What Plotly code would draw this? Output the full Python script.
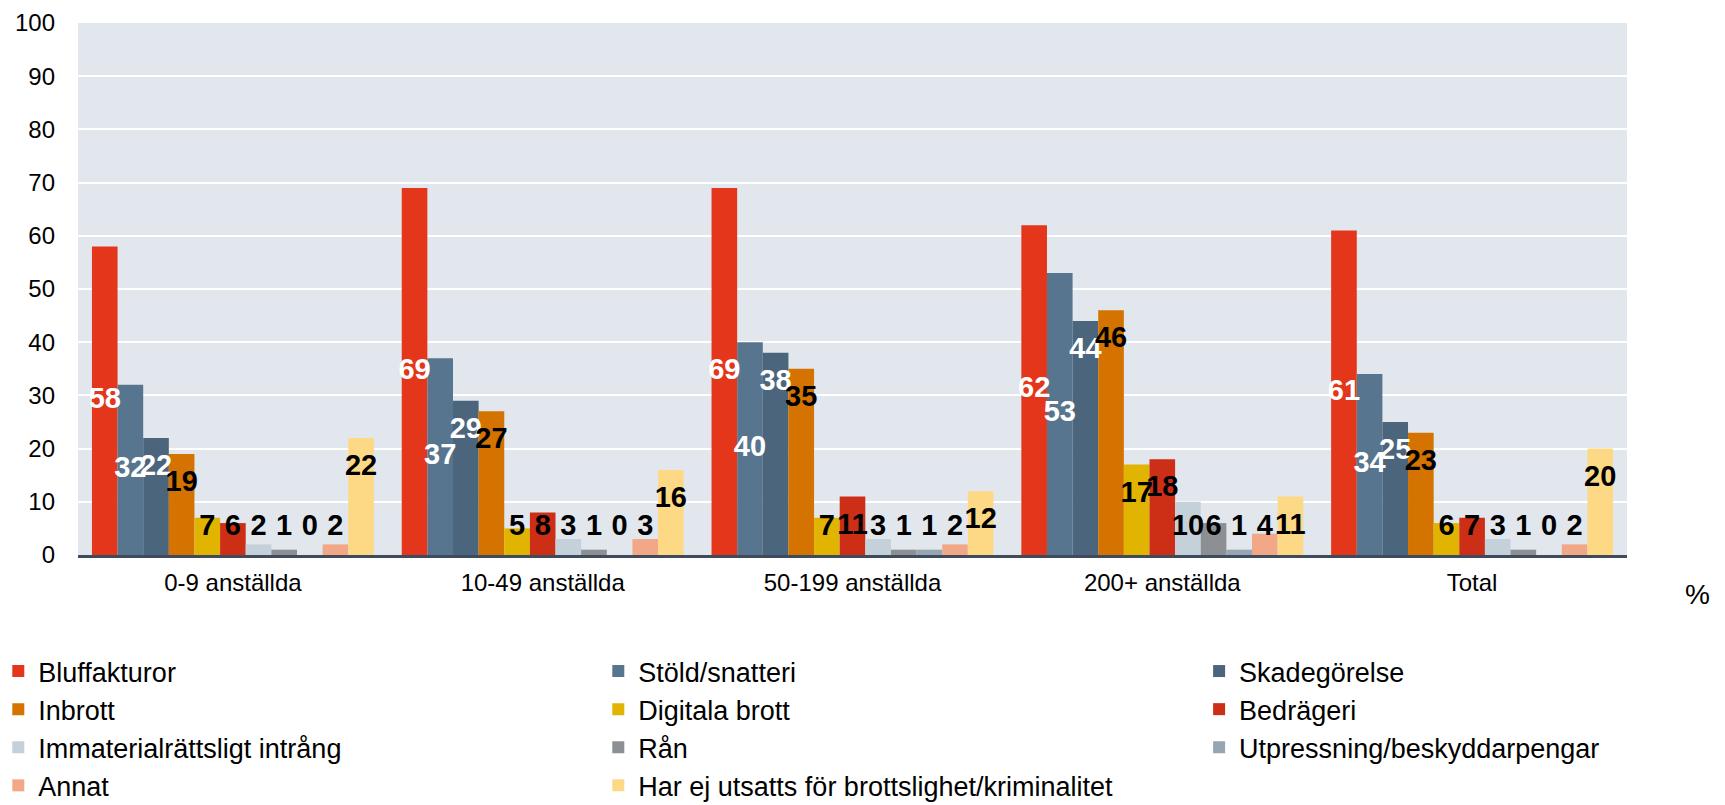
import plotly.graph_objects as go

categories = ["0-9 anställda", "10-49 anställda", "50-199 anställda", "200+ anställda", "Total"]

series_names = [
    "Bluffakturor", "Stöld/snatteri", "Skadegörelse", "Inbrott", "Digitala brott",
    "Bedrägeri", "Immaterialrättsligt intrång", "Rån", "Utpressning/beskyddarpengar",
    "Annat", "Har ej utsatts för brottslighet/kriminalitet",
]

bluffakturor = [58, 69, 69, 62, 61]
stold_snatteri = [32, 37, 40, 53, 34]
skadegorelse = [22, 29, 38, 44, 25]
inbrott = [19, 27, 35, 46, 23]
digitala_brott = [7, 5, 7, 17, 6]
bedrageri = [6, 8, 11, 18, 7]
immaterialratt = [2, 3, 3, 10, 3]
ran = [1, 1, 1, 6, 1]
utpressning = [0, 0, 1, 1, 0]
annat = [2, 3, 2, 4, 2]
har_ej = [22, 16, 12, 11, 20]

values = [bluffakturor, stold_snatteri, skadegorelse, inbrott, digitala_brott,
          bedrageri, immaterialratt, ran, utpressning, annat, har_ej]

colors = ["#e3361a", "#587590", "#4b657c", "#d47300", "#e0b400", "#cc2e16",
          "#c5d1da", "#8c8f93", "#97a5b3", "#f2a886", "#fed985"]

label_colors = ["white", "white", "white"] + ["black"] * 8
# label placement style: centre of bar for first two series, near top for others
label_mode = ["center", "center"] + ["end"] * 9

# legend columns (row-major order in 3 columns)
legend_of = ["legend", "legend2", "legend3"] * 4

FONT = "Liberation Sans, Arial, sans-serif"
W, H = 1725, 805
L, R, T, B = 78, 98, 23, 250
PW = W - L - R

fig = go.Figure()

for i, (name, vals) in enumerate(zip(series_names, values)):
    fig.add_trace(go.Bar(
        x=categories, y=vals, name=name,
        marker=dict(color=colors[i], line=dict(width=0)),
        legend=legend_of[i],
        hoverinfo="x+y+name",
    ))

for i, vals in enumerate(values):
    if label_mode[i] == "center":
        ly = [v / 2 for v in vals]
    else:
        ly = [max(v - 5.6, 5.1) for v in vals]
    fig.add_trace(go.Scatter(
        x=categories, y=ly, mode="text",
        text=[str(v) for v in vals],
        textposition="middle center",
        textfont=dict(family=FONT, size=29, color=label_colors[i], weight="bold"),
        showlegend=False, hoverinfo="skip",
    ))

legend_common = dict(
    orientation="v", xref="paper", yref="container",
    xanchor="left", yanchor="top",
    font=dict(family=FONT, size=27, color="black"),
    bgcolor="rgba(0,0,0,0)", borderwidth=0, tracegroupgap=0,
)
leg_top = 1 - 647 / H
fig.update_layout(
    legend=dict(x=(-1.7 - L) / PW, y=leg_top, **legend_common),
    legend2=dict(x=(598.3 - L) / PW, y=leg_top, **legend_common),
    legend3=dict(x=(1199.1 - L) / PW, y=leg_top, **legend_common),
)

fig.update_layout(
    width=W, height=H,
    margin=dict(l=L, r=R, t=T, b=B, autoexpand=False),
    paper_bgcolor="white",
    plot_bgcolor="#e2e7ee",
    barmode="group", bargap=0.09, bargroupgap=0,
    scattermode="group", scattergap=0.09,
    font=dict(family=FONT, color="black"),
    xaxis=dict(
        showline=True, linewidth=3, linecolor="#3d4b5c",
        tickfont=dict(family=FONT, size=24, color="black"),
        ticks="", ticklabelstandoff=4, showgrid=False,
    ),
    yaxis=dict(
        range=[0, 100], dtick=10, tick0=0,
        showgrid=True, gridcolor="white", gridwidth=2,
        zeroline=False, showline=False, ticks="",
        tickfont=dict(family=FONT, size=24, color="black"),
        ticklabelstandoff=22,
    ),
    annotations=[dict(
        text="%", xref="paper", yref="paper",
        x=(1712 - L) / PW, y=(H - B - 594) / (H - T - B),
        xanchor="right", yanchor="middle", showarrow=False,
        font=dict(family=FONT, size=28, color="black"),
    )],
)

fig.write_html(
    "out.html",
    config={"displayModeBar": False},
    post_script="document.body.style.margin='0';document.body.style.overflow='hidden';",
)
